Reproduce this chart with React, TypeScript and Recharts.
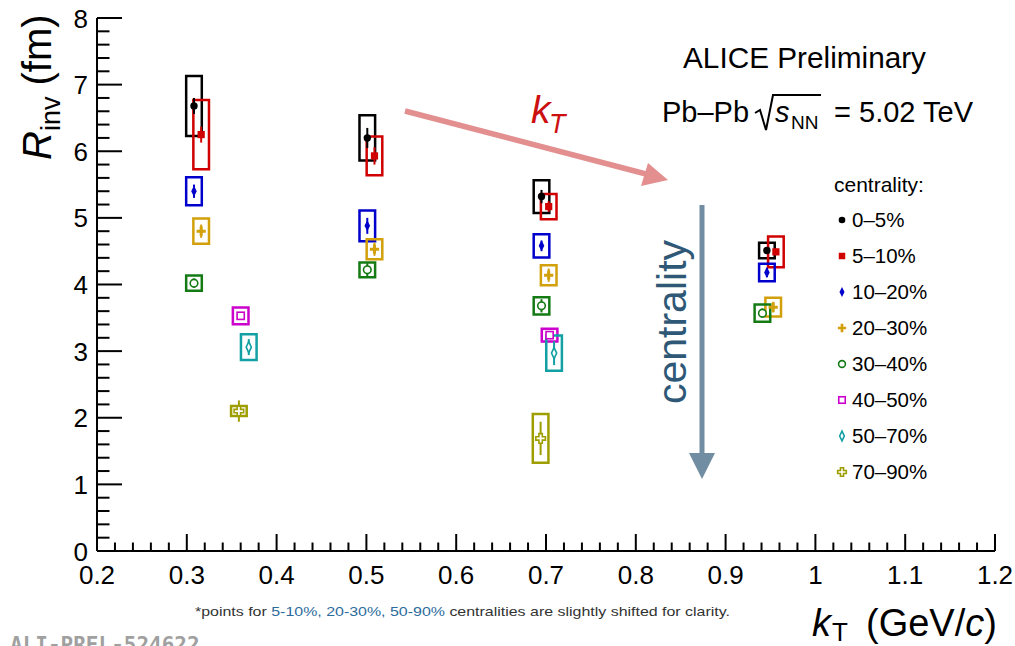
import React from 'react';
import { ScatterChart, Scatter, XAxis, YAxis, ErrorBar, ReferenceArea, Legend } from 'recharts';

const FONT = '"Liberation Sans", Arial, Helvetica, sans-serif';

// R_inv (fm) vs mean kT (GeV/c) per centrality class
// stat = statistical error, sys = systematic error (drawn as boxes)
const C0_5 = [
  { x: 0.308, y: 6.68, stat: 0.12, sys: 0.45 },
  { x: 0.501, y: 6.2, stat: 0.15, sys: 0.34 },
  { x: 0.695, y: 5.32, stat: 0.1, sys: 0.245 },
  { x: 0.946, y: 4.51, stat: 0.05, sys: 0.115 },
];
const C5_10 = [
  { x: 0.316, y: 6.25, stat: 0.12, sys: 0.52 },
  { x: 0.509, y: 5.93, stat: 0.13, sys: 0.29 },
  { x: 0.703, y: 5.17, stat: 0.08, sys: 0.19 },
  { x: 0.956, y: 4.49, stat: 0.05, sys: 0.23 },
];
const C10_20 = [
  { x: 0.308, y: 5.4, stat: 0.1, sys: 0.21 },
  { x: 0.501, y: 4.88, stat: 0.12, sys: 0.23 },
  { x: 0.695, y: 4.58, stat: 0.08, sys: 0.175 },
  { x: 0.946, y: 4.18, stat: 0.07, sys: 0.13 },
];
const C20_30 = [
  { x: 0.316, y: 4.8, stat: 0.1, sys: 0.19 },
  { x: 0.509, y: 4.53, stat: 0.1, sys: 0.15 },
  { x: 0.703, y: 4.14, stat: 0.1, sys: 0.15 },
  { x: 0.953, y: 3.66, stat: 0.08, sys: 0.14 },
];
const C30_40 = [
  { x: 0.308, y: 4.02, stat: 0.07, sys: 0.115 },
  { x: 0.501, y: 4.22, stat: 0.1, sys: 0.11 },
  { x: 0.695, y: 3.68, stat: 0.1, sys: 0.13 },
  { x: 0.941, y: 3.57, stat: 0.07, sys: 0.13 },
];
const C40_50 = [
  { x: 0.36, y: 3.53, stat: 0.05, sys: 0.125 },
  { x: 0.704, y: 3.24, stat: 0.06, sys: 0.095 },
];
const C50_70 = [
  { x: 0.369, y: 3.06, stat: 0.12, sys: 0.195 },
  { x: 0.709, y: 2.97, stat: 0.18, sys: 0.265 },
];
const C70_90 = [
  { x: 0.358, y: 2.1, stat: 0.16, sys: 0.075 },
  { x: 0.694, y: 1.69, stat: 0.25, sys: 0.365 },
];

const X_DOMAIN: [number, number] = [0.2, 1.2];
const Y_DOMAIN: [number, number] = [0, 8];
// half width of the systematic boxes, in kT units
const BOX_HALF = 0.0087;

type MarkerKind =
  | 'circle' | 'square' | 'diamond' | 'cross'
  | 'openCircle' | 'openSquare' | 'openDiamond' | 'openCross';

const SERIES: { name: string; color: string; marker: MarkerKind; data: typeof C0_5 }[] = [
  { name: '0–5%', color: '#000000', marker: 'circle', data: C0_5 },
  { name: '5–10%', color: '#d00000', marker: 'square', data: C5_10 },
  { name: '10–20%', color: '#0000cc', marker: 'diamond', data: C10_20 },
  { name: '20–30%', color: '#d2a00a', marker: 'cross', data: C20_30 },
  { name: '30–40%', color: '#147a14', marker: 'openCircle', data: C30_40 },
  { name: '40–50%', color: '#cc00cc', marker: 'openSquare', data: C40_50 },
  { name: '50–70%', color: '#12a0a4', marker: 'openDiamond', data: C50_70 },
  { name: '70–90%', color: '#9e9e00', marker: 'openCross', data: C70_90 },
];

const xTicks: number[] = [];
for (let i = 0; i <= 50; i++) xTicks.push((20 + 2 * i) / 100);
const yTicks: number[] = [];
for (let i = 0; i <= 40; i++) yTicks.push((2 * i) / 10);

const isMajorX = (v: number) => Math.round(v * 100) % 10 === 0;
const isMajorY = (v: number) => Math.round(v * 10) % 10 === 0;

const crossPoints = (cx: number, cy: number, a: number, t: number) =>
  [
    [cx - t, cy - a], [cx + t, cy - a], [cx + t, cy - t], [cx + a, cy - t],
    [cx + a, cy + t], [cx + t, cy + t], [cx + t, cy + a], [cx - t, cy + a],
    [cx - t, cy + t], [cx - a, cy + t], [cx - a, cy - t], [cx - t, cy - t],
  ].map((p) => p.join(',')).join(' ');

const Marker = ({ kind, cx, cy, color, s = 1 }: { kind: MarkerKind; cx: number; cy: number; color: string; s?: number }) => {
  const open = { fill: '#fff', stroke: color, strokeWidth: 1.6 };
  switch (kind) {
    case 'circle':
      return <circle cx={cx} cy={cy} r={3.7 * s} fill={color} />;
    case 'square':
      return <rect x={cx - 3.6 * s} y={cy - 3.6 * s} width={7.2 * s} height={7.2 * s} fill={color} />;
    case 'diamond':
      return <polygon points={`${cx},${cy - 5.5 * s} ${cx + 2.8 * s},${cy} ${cx},${cy + 5.5 * s} ${cx - 2.8 * s},${cy}`} fill={color} />;
    case 'cross':
      return <polygon points={crossPoints(cx, cy, 4.6 * s, 1.5 * s)} fill={color} />;
    case 'openCircle':
      return <circle cx={cx} cy={cy} r={3.8 * s} {...open} />;
    case 'openSquare':
      return <rect x={cx - 3.6 * s} y={cy - 3.6 * s} width={7.2 * s} height={7.2 * s} {...open} />;
    case 'openDiamond':
      return <polygon points={`${cx},${cy - 5.5 * s} ${cx + 2.6 * s},${cy} ${cx},${cy + 5.5 * s} ${cx - 2.6 * s},${cy}`} {...open} />;
    case 'openCross':
      return <polygon points={crossPoints(cx, cy, 4.8 * s, 1.7 * s)} {...open} />;
  }
  return null;
};

// ROOT-style inward ticks on all four sides
const BottomTick = ({ x, y, payload }: any) => {
  const major = isMajorX(payload.value);
  return (
    <g>
      <line x1={x} x2={x} y1={y} y2={y - (major ? 17 : 8.5)} stroke="#000" strokeWidth={2} />
      {major && (
        <text x={x} y={y + 33} textAnchor="middle" fontSize={26} fontFamily={FONT} fill="#000">
          {String(Math.round(payload.value * 10) / 10)}
        </text>
      )}
    </g>
  );
};

const TopTick = ({ x, y, payload }: any) => (
  <line x1={x} x2={x} y1={y} y2={y + (isMajorX(payload.value) ? 17 : 8.5)} stroke="#000" strokeWidth={2} />
);

const LeftTick = ({ x, y, payload }: any) => {
  const major = isMajorY(payload.value);
  return (
    <g>
      <line x1={x} x2={x + (major ? 25 : 12.5)} y1={y} y2={y} stroke="#000" strokeWidth={2} />
      {major && (
        <text x={x - 9} y={y + 9.5} textAnchor="end" fontSize={26} fontFamily={FONT} fill="#000">
          {String(Math.round(payload.value))}
        </text>
      )}
    </g>
  );
};

const RightTick = ({ x, y, payload }: any) => (
  <line x1={x} x2={x - (isMajorY(payload.value) ? 25 : 12.5)} y1={y} y2={y} stroke="#000" strokeWidth={2} />
);

const CentralityLegend = () => (
  <div style={{ fontFamily: FONT, color: '#000', width: 130 }}>
    <div style={{ height: 34, lineHeight: '34px', fontSize: 21, paddingLeft: 2 }}>centrality:</div>
    {SERIES.map((s) => (
      <div key={s.name} style={{ height: 36, display: 'flex', alignItems: 'center' }}>
        <svg width={20} height={36} style={{ display: 'block' }}>
          <Marker kind={s.marker} cx={10} cy={18} color={s.color} s={0.9} />
        </svg>
        <span style={{ fontSize: 20.5, lineHeight: '36px' }}>{s.name}</span>
      </div>
    ))}
  </div>
);

const axisLine = { stroke: '#000', strokeWidth: 2 };

export default function App() {
  return (
    <div style={{ position: 'absolute', left: 0, top: 0, width: 1015, height: 646, background: '#fff', fontFamily: FONT }}>
      <ScatterChart width={1015} height={646} margin={{ top: 18, right: 20, bottom: 0, left: 0 }}>
        <XAxis
          type="number" dataKey="x" domain={X_DOMAIN} ticks={xTicks} interval={0}
          allowDataOverflow height={95} tickSize={0} tickMargin={0}
          tickLine={false} axisLine={axisLine} tick={BottomTick}
        />
        <XAxis
          xAxisId="top" orientation="top" type="number" domain={X_DOMAIN} ticks={xTicks} interval={0}
          allowDataOverflow height={0} tickSize={0} tickMargin={0}
          tickLine={false} axisLine={axisLine} tick={TopTick}
        />
        <YAxis
          type="number" dataKey="y" domain={Y_DOMAIN} ticks={yTicks} interval={0}
          allowDataOverflow width={97} tickSize={0} tickMargin={0}
          tickLine={false} axisLine={axisLine} tick={LeftTick}
        />
        <YAxis
          yAxisId="right" orientation="right" type="number" domain={Y_DOMAIN} ticks={yTicks} interval={0}
          allowDataOverflow width={0} tickSize={0} tickMargin={0}
          tickLine={false} axisLine={axisLine} tick={RightTick}
        />
        {SERIES.map((s) =>
          s.data.map((p, i) => (
            <ReferenceArea
              key={`${s.name}-box-${i}`}
              x1={p.x - BOX_HALF} x2={p.x + BOX_HALF}
              y1={p.y - p.sys} y2={p.y + p.sys}
              fill="none" fillOpacity={0} stroke={s.color} strokeWidth={2.5}
              ifOverflow="visible"
            />
          ))
        )}
        {SERIES.map((s) => (
          <Scatter
            key={s.name}
            name={s.name}
            data={s.data}
            fill={s.color}
            isAnimationActive={false}
            shape={(p: any) => <Marker kind={s.marker} cx={p.cx} cy={p.cy} color={s.color} />}
          >
            <ErrorBar dataKey="stat" direction="y" width={0} stroke={s.color} strokeWidth={2} isAnimationActive={false} />
          </Scatter>
        ))}
        <Legend
          layout="horizontal" verticalAlign="middle" align="center"
          wrapperStyle={{ left: 832, top: 168, width: 130 }}
          content={() => <CentralityLegend />}
        />
      </ScatterChart>

      <svg width={1015} height={646} style={{ position: 'absolute', left: 0, top: 0, pointerEvents: 'none' }} fontFamily={FONT}>
        {/* axis titles */}
        <text transform="translate(51,160) rotate(-90)" fontSize={40} fill="#000">
          <tspan fontStyle="italic">R</tspan>
          <tspan fontSize={27} dy={9}>inv</tspan>
          <tspan dy={-9}> (fm)</tspan>
        </text>
        <text y={636} fontSize={38} fill="#000">
          <tspan x={812} fontStyle="italic">k</tspan>
          <tspan x={832} fontSize={26} dy={5}>T</tspan>
          <tspan x={866} dy={-5}>(GeV/</tspan>
          <tspan fontStyle="italic">c</tspan>
          <tspan>)</tspan>
        </text>

        {/* collaboration and system labels */}
        <text x={683} y={68} fontSize={29} textLength={243} lengthAdjust="spacingAndGlyphs">ALICE Preliminary</text>
        <text x={662} y={122} fontSize={29}>Pb–Pb</text>
        <path d="M755 113 L760 110 L766 130 L773 95 L821 95" fill="none" stroke="#000" strokeWidth={2} />
        <text x={775} y={122} fontSize={29} fontStyle="italic">s</text>
        <text x={791} y={129} fontSize={19}>NN</text>
        <text x={973} y={122} fontSize={29} textAnchor="end">= 5.02 TeV</text>

        {/* kT trend arrow */}
        <line x1={405} y1={111} x2={646} y2={174} stroke="#e38f8f" strokeWidth={5.5} />
        <polygon points="668,180 641,186 648,163" fill="#e38f8f" />
        <text x={531} y={123} fontSize={39} fontStyle="italic" fill="#cc1010">k</text>
        <text x={549} y={133} fontSize={27} fontStyle="italic" fill="#cc1010">T</text>

        {/* centrality trend arrow */}
        <line x1={702} y1={205} x2={702} y2={456} stroke="#718da1" strokeWidth={5} />
        <polygon points="689,453 715,453 702,479" fill="#718da1" />
        <text transform="translate(686,322) rotate(-90)" fontSize={41} fill="#2f5877" textAnchor="middle">centrality</text>

        {/* footnote and figure id */}
        <text x={195} y={616} fontSize={13} fill="#333" textLength={535} lengthAdjust="spacingAndGlyphs">
          *points for <tspan fill="#2b6b9c">5-10%, 20-30%, 50-90%</tspan> centralities are slightly shifted for clarity.
        </text>
        <text x={10} y={652} fontSize={21} fontWeight="bold" fill="#a0a0a0" fontFamily='"DejaVu Sans Mono", "Liberation Mono", monospace'>ALI-PREL-524622</text>
      </svg>
    </div>
  );
}
